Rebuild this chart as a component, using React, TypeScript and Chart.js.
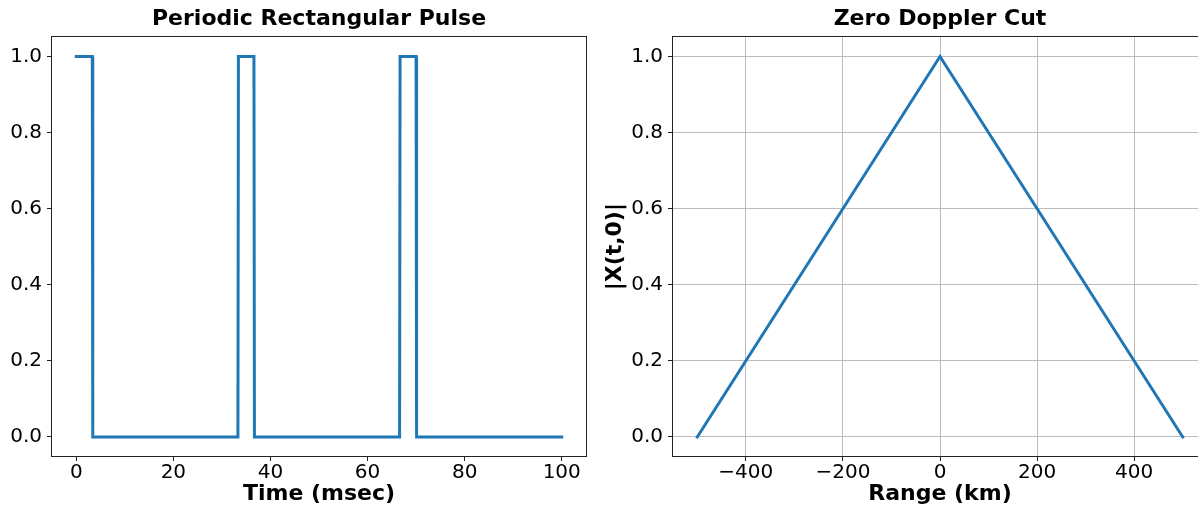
import React, { useEffect, useRef } from 'react';
import { Chart, registerables } from 'chart.js';

Chart.register(...registerables);

// ---- data ----
const pulseTimeMs = [0, 3.3, 3.4, 33.3, 33.4, 36.6, 36.7, 66.6, 66.7, 70.0, 70.1, 100];
const pulseAmplitude = [1, 1, 0, 0, 1, 1, 0, 0, 1, 1, 0, 0];
const rangeKm = [-500, 0, 500];
const cutAmplitude = [0, 1, 0];
const timeTicks = [0, 20, 40, 60, 80, 100];
const rangeTicks = [-400, -200, 0, 200, 400];
const ampTicks = [0, 0.2, 0.4, 0.6, 0.8, 1.0];

const FONT = "'DejaVu Sans', sans-serif";
const BLUE = '#1f77b4';

const framePlugin = {
  id: 'frame',
  afterDraw(chart: any) {
    const { ctx, chartArea } = chart;
    const l = Math.round(chartArea.left) - 0.5;
    const t = Math.round(chartArea.top) - 0.5;
    const r = Math.round(chartArea.right) + 0.5;
    const b = Math.round(chartArea.bottom) + 0.5;
    ctx.save();
    ctx.strokeStyle = '#222';
    ctx.lineWidth = 1;
    ctx.strokeRect(l, t, r - l, b - t);
    ctx.restore();
  },
};

function axis(o: {
  axis: 'x' | 'y';
  min: number;
  max: number;
  ticks: number[];
  fmt: (v: number) => string;
  size: number;
  title?: string;
  titlePad?: number;
  gridLines: boolean;
}) {
  const isX = o.axis === 'x';
  return {
    type: 'linear',
    position: isX ? 'bottom' : 'left',
    min: o.min,
    max: o.max,
    afterBuildTicks: (s: any) => {
      s.ticks = o.ticks.map((v) => ({ value: v }));
    },
    afterFit: (s: any) => {
      if (isX) s.height = o.size;
      else s.width = o.size;
      s.paddingLeft = 0;
      s.paddingRight = 0;
      s.paddingTop = 0;
      s.paddingBottom = 0;
    },
    border: { display: false },
    grid: {
      display: true,
      drawOnChartArea: o.gridLines,
      drawTicks: true,
      tickLength: 5,
      tickColor: '#222',
      color: '#bdbdbd',
      lineWidth: 1,
    },
    ticks: {
      autoSkip: false,
      maxRotation: 0,
      minRotation: 0,
      padding: isX ? 2 : 5,
      color: '#000',
      font: { family: FONT, size: 20, lineHeight: 1.0 },
      callback: (v: any) => o.fmt(Number(v)),
    },
    title: o.title
      ? {
          display: true,
          text: o.title,
          color: '#000',
          font: { family: FONT, size: 22, weight: 'bold' },
          padding: { top: o.titlePad ?? 0, bottom: o.titlePad ?? 0 },
        }
      : { display: false },
  };
}

const fmtAmp = (v: number) => v.toFixed(1);
const fmtInt = (v: number) => (v < 0 ? '\u2212' + Math.abs(v) : String(v));

function makeConfig(o: {
  xs: number[];
  ys: number[];
  title: string;
  xScale: any;
  yScale: any;
  padRight: number;
}) {
  return {
    type: 'line',
    data: {
      datasets: [
        {
          data: o.xs.map((x, i) => ({ x, y: o.ys[i] })),
          borderColor: BLUE,
          borderWidth: 3,
          pointRadius: 0,
          fill: false,
          tension: 0,
          borderCapStyle: 'square',
          borderJoinStyle: 'miter',
        },
      ],
    },
    options: {
      responsive: false,
      animation: false,
      layout: { padding: { left: 0, right: o.padRight, top: 0, bottom: 0 } },
      plugins: {
        legend: { display: false },
        tooltip: { enabled: false },
        title: {
          display: true,
          text: o.title,
          fullSize: false,
          color: '#000',
          font: { family: FONT, size: 22, weight: 'bold' },
          padding: { top: 6, bottom: 5 },
        },
      },
      scales: { x: o.xScale, y: o.yScale },
    },
    plugins: [framePlugin],
  };
}

function ChartCanvas({ config, left, width }: { config: any; left: number; width: number }) {
  const ref = useRef<HTMLCanvasElement | null>(null);
  useEffect(() => {
    if (!ref.current) return;
    const chart = new Chart(ref.current, config);
    return () => chart.destroy();
  }, [config]);
  return (
    <canvas
      ref={ref}
      width={width}
      height={510}
      style={{ position: 'absolute', left, top: 0, width, height: 510 }}
    />
  );
}

const leftConfig = makeConfig({
  xs: pulseTimeMs,
  ys: pulseAmplitude,
  title: 'Periodic Rectangular Pulse',
  padRight: 14,
  xScale: axis({
    axis: 'x',
    min: -5,
    max: 105,
    ticks: timeTicks,
    fmt: fmtInt,
    size: 54,
    title: 'Time (msec)',
    titlePad: 3,
    gridLines: false,
  }),
  yScale: axis({
    axis: 'y',
    min: -0.05,
    max: 1.05,
    ticks: ampTicks,
    fmt: fmtAmp,
    size: 52,
    gridLines: false,
  }),
});

const rightConfig = makeConfig({
  xs: rangeKm,
  ys: cutAmplitude,
  title: 'Zero Doppler Cut',
  padRight: 13,
  xScale: axis({
    axis: 'x',
    min: -550,
    max: 550,
    ticks: rangeTicks,
    fmt: fmtInt,
    size: 54,
    title: 'Range (km)',
    titlePad: 3,
    gridLines: true,
  }),
  yScale: axis({
    axis: 'y',
    min: -0.05,
    max: 1.05,
    ticks: ampTicks,
    fmt: fmtAmp,
    size: 73,
    title: '|X(t,0)|',
    titlePad: 2,
    gridLines: true,
  }),
});

export default function App() {
  return (
    <div
      style={{
        position: 'fixed',
        left: 0,
        top: 0,
        width: 1198,
        height: 510,
        overflow: 'hidden',
        background: '#fff',
      }}
    >
      <ChartCanvas config={leftConfig} left={0} width={600} />
      <ChartCanvas config={rightConfig} left={600} width={620} />
    </div>
  );
}
